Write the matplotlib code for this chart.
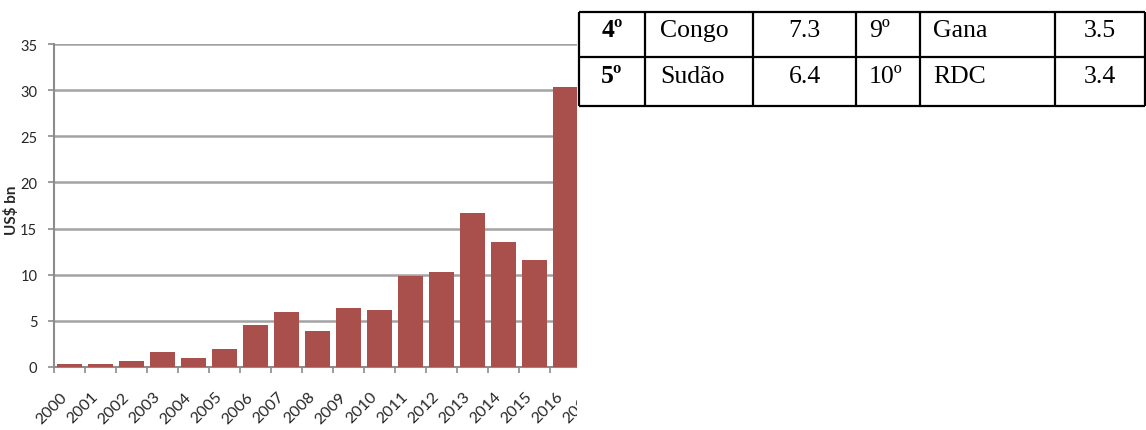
import numpy as np
import matplotlib
matplotlib.use("Agg")
import matplotlib.pyplot as plt

# Bar chart data (US$ bn per year)
years = ["2000", "2001", "2002", "2003", "2004", "2005", "2006", "2007", "2008",
         "2009", "2010", "2011", "2012", "2013", "2014", "2015", "2016", "2017"]
values = [0.3, 0.3, 0.7, 1.65, 0.95, 1.9, 4.6, 6.0, 3.95,
          6.4, 6.2, 9.9, 10.3, 16.7, 13.5, 11.6, 30.3]

# Table data
rank_a = ["4º", "5º"]
country_a = ["Congo", "Sudão"]
value_a = ["7.3", "6.4"]
rank_b = ["9º", "10º"]
country_b = ["Gana", "RDC"]
value_b = ["3.5", "3.4"]

W, H = 1146, 431
fig = plt.figure(figsize=(W / 100, H / 100), dpi=100)
fig.patch.set_facecolor("white")

# Chart axes
ax = fig.add_axes([54 / W, 63 / H, 558 / W, 323 / H])
x = np.arange(len(values))
ax.bar(x, values, width=0.8, color="#a94f4c", zorder=3)
ax.set_xlim(-0.5, len(years) - 0.5)
ax.set_ylim(0, 35)
ax.set_yticks(np.arange(0, 36, 5))
ax.yaxis.grid(True, color="#a3a3a3", linewidth=1.8, zorder=0)
ax.set_axisbelow(True)
for s in ["top", "right"]:
    ax.spines[s].set_visible(False)
for s in ["left", "bottom"]:
    ax.spines[s].set_color("#8c8c8c")
    ax.spines[s].set_linewidth(1.5)

ax.set_xticks(np.arange(len(years)))
ax.set_xticklabels(years, rotation=45, ha="right", rotation_mode="default")
ax.set_xticks(np.arange(len(years) + 1) - 0.5, minor=True)
ax.tick_params(axis="x", which="major", length=0, pad=16)
ax.tick_params(axis="x", which="minor", length=4, width=1.2, color="#8c8c8c")
ax.tick_params(axis="y", length=4, width=1.2, color="#8c8c8c", pad=8)
for lab in ax.get_xticklabels():
    lab.set_fontfamily("Lato")
    lab.set_fontsize(11.5)
    lab.set_color("#262626")
for lab in ax.get_yticklabels():
    lab.set_fontfamily("Lato")
    lab.set_fontsize(10.5)
    lab.set_color("#262626")

fig.text(12 / W, 1 - 210 / H, "US$ bn", rotation=90, ha="center", va="center",
         fontfamily="Lato", fontweight="bold", fontsize=11, color="#262626")

# Table panel on the right
axt = fig.add_axes([577 / W, 0, (W - 577) / W, 1])
axt.set_zorder(5)
axt.set_xlim(577, W)
axt.set_ylim(H, 0)
axt.set_xticks([])
axt.set_yticks([])
for s in axt.spines.values():
    s.set_visible(False)
axt.patch.set_facecolor("white")

col_edges = [579, 645, 753, 856, 920, 1055, 1145]
row_edges = [13, 58, 107]
axt.hlines(row_edges, col_edges[0], col_edges[-1], color="black", linewidth=1.6)
axt.vlines(col_edges, row_edges[0], row_edges[-1], color="black", linewidth=1.6)

baselines = [37, 83]
fs = 18.5
for i in range(2):
    y = baselines[i]
    axt.text((col_edges[0] + col_edges[1]) / 2, y, rank_a[i], ha="center", va="baseline",
             fontfamily="Liberation Serif", fontweight="bold", fontsize=fs)
    axt.text(col_edges[1] + 15, y, country_a[i], ha="left", va="baseline",
             fontfamily="Liberation Serif", fontsize=fs)
    axt.text((col_edges[2] + col_edges[3]) / 2, y, value_a[i], ha="center", va="baseline",
             fontfamily="Liberation Serif", fontsize=fs)
    axt.text(col_edges[3] + 13, y, rank_b[i], ha="left", va="baseline",
             fontfamily="Liberation Serif", fontsize=fs)
    axt.text(col_edges[4] + 13, y, country_b[i], ha="left", va="baseline",
             fontfamily="Liberation Serif", fontsize=fs)
    axt.text((col_edges[5] + col_edges[6]) / 2, y, value_b[i], ha="center", va="baseline",
             fontfamily="Liberation Serif", fontsize=fs)

fig.savefig("out.png", dpi=100, facecolor="white")
